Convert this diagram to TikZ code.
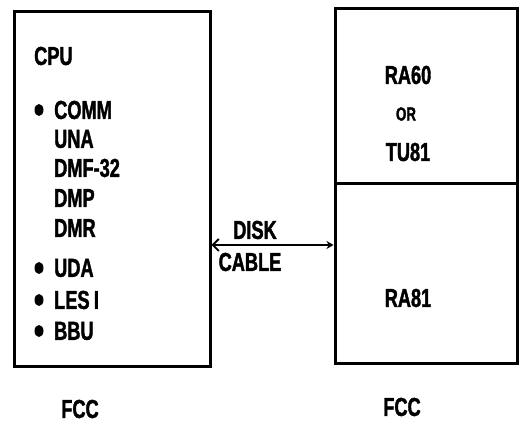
\documentclass[tikz,border=0pt]{standalone}
\usepackage{fontspec}
\setmainfont{Liberation Sans}[FakeStretch=0.7,FakeBold=1.5]
\usetikzlibrary{arrows.meta,shapes.geometric}
\begin{document}
\begin{tikzpicture}[x=1pt,y=-1pt,
  box/.style={draw,line width=3pt,minimum width=#1,inner sep=0pt},
  lbl/.style={font=\fontsize{26}{28}\selectfont\bfseries,inner sep=0pt,anchor=west},
  clbl/.style={font=\fontsize{26}{28}\selectfont\bfseries,inner sep=0pt},
  bul/.style={ellipse,fill,minimum width=9pt,minimum height=12pt,inner sep=0pt},
  cable/.style={line width=2.8pt,{Straight Barb[length=6pt,width=12pt,line width=1.8pt]}-{Stealth[length=7pt,width=8pt]}}]
\useasboundingbox (0,0) rectangle (523,427);
% boxes
\node[box=196pt,minimum height=355pt] (cpu) at (112,189.5) {};
\node[box=182pt,minimum height=175pt] (upper) at (426,96.5) {};
\node[box=182pt,minimum height=180pt] (lower) at (426,274) {};
% left texts
\node[lbl] (tcpu) at (34,56) {CPU};
\node[bul] (b1) at (39,110) {};
\node[lbl] (comm) at (54,110) {COMM};
\node[lbl] (una) at (54,139) {UNA};
\node[lbl] (dmf) at (54,168) {DMF-32};
\node[lbl] (dmp) at (54,198) {DMP};
\node[lbl] (dmr) at (54,228) {DMR};
\node[bul] (b2) at (39,268) {};
\node[lbl] (uda) at (54,268) {UDA};
\node[bul] (b3) at (39,300) {};
\node[lbl] (lesi) at (54,300) {LES\,I};
\node[bul] (b4) at (39,331) {};
\node[lbl] (bbu) at (54,331) {BBU};
\node[clbl] (fcc1) at (80,409) {FCC};
% right texts
\node[clbl] (ra60) at (408,75) {RA60};
\node[clbl,font=\fontsize{19}{21}\selectfont\bfseries] (or) at (406,114) {OR};
\node[clbl] (tu81) at (408,152) {TU81};
\node[clbl] (ra81) at (408,298) {RA81};
\node[clbl] (fcc2) at (402,407) {FCC};
% cable
\coordinate (ay) at (0,245);
\draw[cable] (cpu.east |- ay) -- (lower.west |- ay);
\node[clbl] (disk) at (255,230) {DISK};
\node[clbl] (cablet) at (250,262) {CABLE};
\end{tikzpicture}
\end{document}
